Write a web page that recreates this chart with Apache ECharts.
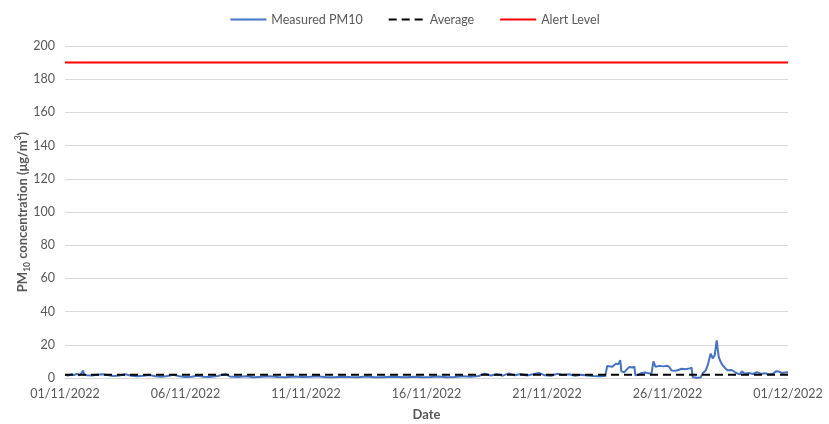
<!DOCTYPE html>
<html>
<head>
<meta charset="utf-8">
<script src="https://cdn.jsdelivr.net/npm/echarts@6/dist/echarts.min.js"></script>
<style>html,body{margin:0;padding:0;background:#fff}#c{width:829px;height:424px}</style>
</head>
<body>
<div id="c"></div>
<script>
// x tick labels (every 5 days from 01/11/2022)
var xTickLabels = ['01/11/2022','06/11/2022','11/11/2022','16/11/2022','21/11/2022','26/11/2022','01/12/2022'];
var startDate = '2022-11-01 00:00';
var endDate = '2022-12-01 00:00';
// measured PM10 [time, value]
var measuredPM10 = [
['2022-11-01 00:00',2.0],['2022-11-01 03:00',1.5],['2022-11-01 06:00',2.2],['2022-11-01 09:00',1.8],
['2022-11-01 12:00',2.5],['2022-11-01 15:00',1.6],['2022-11-01 18:00',4.5],['2022-11-01 19:00',1.9],['2022-11-01 22:00',1.7],
['2022-11-02 03:00',1.5],['2022-11-02 08:00',2.0],['2022-11-02 13:00',2.3],['2022-11-02 18:00',1.8],
['2022-11-03 00:00',1.2],['2022-11-03 06:00',1.5],['2022-11-03 12:00',2.2],['2022-11-03 18:00',1.4],
['2022-11-04 00:00',1.0],['2022-11-04 06:00',1.3],['2022-11-04 12:00',1.8],['2022-11-04 18:00',1.1],
['2022-11-05 00:00',0.8],['2022-11-05 06:00',1.2],['2022-11-05 12:00',1.9],['2022-11-05 18:00',1.0],
['2022-11-06 00:00',0.6],['2022-11-06 06:00',0.8],['2022-11-06 12:00',1.4],['2022-11-06 18:00',0.7],
['2022-11-07 00:00',0.6],['2022-11-07 08:00',1.2],['2022-11-07 16:00',2.4],['2022-11-07 20:00',0.9],
['2022-11-08 04:00',0.6],['2022-11-08 12:00',1.0],['2022-11-08 20:00',0.5],
['2022-11-09 04:00',0.7],['2022-11-09 12:00',1.1],['2022-11-09 20:00',0.6],
['2022-11-10 04:00',0.5],['2022-11-10 12:00',0.9],['2022-11-10 20:00',0.6],
['2022-11-11 04:00',0.7],['2022-11-11 12:00',1.0],['2022-11-11 20:00',0.5],
['2022-11-12 04:00',0.4],['2022-11-12 12:00',0.8],['2022-11-12 20:00',0.6],
['2022-11-13 04:00',0.5],['2022-11-13 12:00',0.9],['2022-11-13 20:00',0.4],
['2022-11-14 04:00',0.5],['2022-11-14 12:00',0.8],['2022-11-14 20:00',0.6],
['2022-11-15 04:00',0.4],['2022-11-15 12:00',0.7],['2022-11-15 20:00',0.5],
['2022-11-16 04:00',0.6],['2022-11-16 12:00',0.9],['2022-11-16 20:00',0.5],
['2022-11-17 04:00',0.6],['2022-11-17 12:00',1.0],['2022-11-17 20:00',0.8],
['2022-11-18 04:00',1.2],['2022-11-18 10:00',2.6],['2022-11-18 16:00',1.5],['2022-11-18 22:00',2.2],
['2022-11-19 04:00',1.4],['2022-11-19 10:00',2.8],['2022-11-19 16:00',1.6],['2022-11-19 22:00',2.4],
['2022-11-20 04:00',1.5],['2022-11-20 10:00',2.2],['2022-11-20 16:00',3.0],['2022-11-20 22:00',1.6],
['2022-11-21 04:00',1.4],['2022-11-21 10:00',2.5],['2022-11-21 16:00',1.8],['2022-11-21 22:00',2.3],
['2022-11-22 04:00',1.3],['2022-11-22 10:00',2.0],['2022-11-22 16:00',1.5],['2022-11-22 22:00',1.2],
['2022-11-23 04:00',1.0],['2022-11-23 10:00',1.2],['2022-11-23 12:00',7.2],['2022-11-23 17:00',6.8],
['2022-11-23 21:00',8.7],['2022-11-23 23:00',8.2],['2022-11-24 01:00',10.7],['2022-11-24 02:00',4.0],
['2022-11-24 05:00',3.5],['2022-11-24 08:00',5.5],['2022-11-24 10:00',6.6],['2022-11-24 13:00',6.3],
['2022-11-24 15:00',6.8],['2022-11-24 16:00',1.6],['2022-11-24 19:00',2.0],['2022-11-24 22:00',3.0],
['2022-11-25 02:00',3.3],['2022-11-25 05:00',2.8],['2022-11-25 08:00',2.5],['2022-11-25 10:00',10.0],
['2022-11-25 12:00',6.8],['2022-11-25 16:00',7.3],['2022-11-25 20:00',7.0],['2022-11-26 00:00',7.4],
['2022-11-26 02:00',6.5],['2022-11-26 04:00',4.5],['2022-11-26 08:00',4.4],['2022-11-26 11:00',4.8],
['2022-11-26 14:00',5.6],['2022-11-26 18:00',5.3],['2022-11-26 22:00',5.8],['2022-11-27 00:00',6.2],
['2022-11-27 01:00',0.6],['2022-11-27 05:00',0.2],['2022-11-27 09:00',0.3],['2022-11-27 11:00',2.8],
['2022-11-27 14:00',4.5],['2022-11-27 16:00',7.6],['2022-11-27 19:00',14.7],['2022-11-27 21:00',11.8],
['2022-11-27 23:00',13.7],['2022-11-28 01:00',22.7],['2022-11-28 03:00',12.7],['2022-11-28 05:00',9.6],
['2022-11-28 07:00',7.6],['2022-11-28 10:00',5.6],['2022-11-28 12:00',4.6],['2022-11-28 16:00',4.8],
['2022-11-28 19:00',3.6],['2022-11-28 22:00',2.6],['2022-11-29 00:00',2.2],['2022-11-29 02:00',4.0],
['2022-11-29 05:00',2.6],['2022-11-29 09:00',3.0],['2022-11-29 13:00',2.4],['2022-11-29 17:00',3.5],
['2022-11-29 21:00',2.5],['2022-11-30 01:00',2.8],['2022-11-30 05:00',2.3],['2022-11-30 09:00',2.6],
['2022-11-30 12:00',4.0],['2022-11-30 15:00',3.9],['2022-11-30 18:00',3.0],['2022-11-30 21:00',3.3],
['2022-12-01 00:00',3.5]
];
var averageValue = 2.0;
var alertLevel = 190;
var yTicks = {min: 0, max: 200, interval: 20};

function toDays(s) {
  var t0 = Date.parse(startDate.replace(' ', 'T') + ':00Z');
  var t = Date.parse(s.replace(' ', 'T') + ':00Z');
  return (t - t0) / 86400000;
}
var totalDays = toDays(endDate);
var pmData = measuredPM10.map(function (d) { return [toDays(d[0]), d[1]]; });

var font = 'Lato, "Open Sans", sans-serif';
var grey = '#595959';
var fsTick = 12.5;
var fsName = 13;
var chart = echarts.init(document.getElementById('c'));
chart.setOption({
  animation: false,
  textStyle: {fontFamily: font},
  legend: {
    top: 8, left: 'center', itemWidth: 36, itemHeight: 10, itemGap: 25,
    itemStyle: {opacity: 0, borderWidth: 0},
    textStyle: {color: grey, fontSize: 12.5, fontFamily: font},
    data: ['Measured PM10', 'Average', 'Alert Level']
  },
  grid: {left: 65, right: 41, top: 46, bottom: 46, containLabel: false, outerBoundsMode: 'none'},
  xAxis: {
    type: 'value', min: 0, max: totalDays, interval: 5,
    name: 'Date', nameLocation: 'middle', nameGap: 30, nameMoveOverlap: false,
    nameTextStyle: {color: grey, fontWeight: 'bold', fontSize: fsName, fontFamily: font},
    axisLine: {show: true, lineStyle: {color: '#D9D9D9', width: 1}},
    axisTick: {show: false},
    splitLine: {show: false},
    axisLabel: {color: grey, fontSize: fsTick, margin: 9, fontFamily: font,
      formatter: function (v) { return xTickLabels[Math.round(v / 5)] || ''; }}
  },
  yAxis: {
    type: 'value', min: yTicks.min, max: yTicks.max, interval: yTicks.interval,
    name: '{a|PM}{s|10}{a| concentration (μg/m}{p|3}{a|)}',
    nameLocation: 'middle', nameRotate: 90, nameGap: 33, nameMoveOverlap: false,
    nameTextStyle: {
      color: grey, fontWeight: 'bold', fontSize: fsName, fontFamily: font,
      rich: {
        a: {color: grey, fontWeight: 'bold', fontSize: fsName, fontFamily: font, lineHeight: 18, verticalAlign: 'middle'},
        s: {color: grey, fontWeight: 'bold', fontSize: 8.5, fontFamily: font, lineHeight: 18, verticalAlign: 'bottom'},
        p: {color: grey, fontWeight: 'bold', fontSize: 8.5, fontFamily: font, lineHeight: 18, verticalAlign: 'top'}
      }
    },
    axisLine: {show: false}, axisTick: {show: false},
    splitLine: {lineStyle: {color: '#D9D9D9', width: 1}},
    axisLabel: {color: grey, fontSize: fsTick, margin: 10, fontFamily: font}
  },
  series: [
    {name: 'Measured PM10', type: 'line', data: pmData, showSymbol: false, symbol: 'none',
      lineStyle: {color: '#4472C4', width: 2}, itemStyle: {color: '#4472C4'}},
    {name: 'Average', type: 'line', data: [[0, averageValue], [totalDays, averageValue]], showSymbol: false, symbol: 'none',
      lineStyle: {color: '#000000', width: 2, type: [8, 5]}, itemStyle: {color: '#000000'}},
    {name: 'Alert Level', type: 'line', data: [[0, alertLevel], [totalDays, alertLevel]], showSymbol: false, symbol: 'none',
      lineStyle: {color: '#FF0000', width: 2}, itemStyle: {color: '#FF0000'}}
  ]
});
</script>
</body>
</html>
